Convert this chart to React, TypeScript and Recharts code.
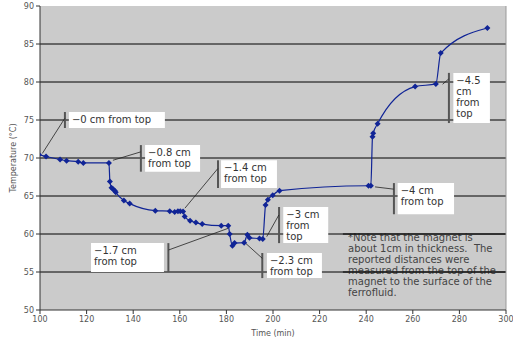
import React from 'react';
import { LineChart, Line, XAxis, YAxis, CartesianGrid, ReferenceLine, ReferenceArea } from 'recharts';

// time (min) and temperature (°C)
const times = [
    99.5, 102.6, 108.6, 111.4, 116.4, 118.6, 129.6, 130.0, 130.7, 131.4, 132.1, 132.5,
    136.0, 138.5, 149.5, 155.7, 157.8, 159.2, 160.2, 161.4, 162.1, 164.4, 166.9, 169.6,
    177.8, 180.8, 181.4, 182.6, 183.5, 187.6, 189.0, 189.9, 194.2, 195.6, 196.8, 197.8,
    199.9, 202.8, 241.0, 242.0, 242.7, 243.0, 244.9, 261.0, 269.9, 272.0, 292.0
];
const temps = [
    70.45, 70.2, 69.8, 69.65, 69.5, 69.35, 69.35, 66.9, 66.1, 65.9, 65.7, 65.5,
    64.4, 64.0, 63.07, 63.0, 62.9, 63.0, 63.0, 62.95, 62.3, 61.75, 61.5, 61.3,
    61.1, 61.1, 60.0, 58.45, 58.8, 58.85, 59.9, 59.5, 59.4, 59.35, 63.8, 64.5,
    65.1, 65.7, 66.35, 66.35, 72.8, 73.25, 74.5, 79.4, 79.75, 83.8, 87.1
];
const xTicks = [100, 120, 140, 160, 180, 200, 220, 240, 260, 280, 300];
const yTicks = [50, 55, 60, 65, 70, 75, 80, 85, 90];
const gridLevels = [55, 60, 65, 70, 75, 80, 85];
// gridlines that cross the note text are drawn again on top of it
const noteGrid = [55, 60];

const noteLines = [
    '*Note that the magnet is',
    'about 1cm in thickness.  The',
    'reported distances were',
    'measured from the top of the',
    'magnet to the surface of the',
    'ferrofluid.'
];

// callouts: text, box (x1, x2, y1, y2), bar x, leader line from/to (chart units)
const callouts = [
    { lines: ['\u22120 cm from top'], box: [112.4, 153.6, 73.95, 76.05], bar: 110.7, from: [110.6, 75.2], to: [101.0, 70.6] },
    { lines: ['\u22120.8 cm', 'from top'], box: [145.1, 168.7, 68.2, 71.7], bar: 143.3, from: [143.2, 70.8], to: [131.3, 69.7] },
    { lines: ['\u22121.4 cm', 'from top'], box: [177.7, 201.7, 66.05, 69.7], bar: 176.4, from: [176.3, 68.6], to: [162.2, 63.4] },
    { lines: ['\u22121.7 cm', 'from top'], box: [121.9, 153.2, 55.0, 58.8], bar: 155.1, from: [155.2, 57.9], to: [180.8, 60.75] },
    { lines: ['\u22122.3 cm', 'from top'], box: [197.4, 221.0, 54.2, 57.5], bar: 195.4, from: [195.4, 56.8], to: [188.0, 58.85] },
    { lines: ['\u22123 cm', 'from', 'top'], box: [204.4, 223.7, 58.8, 63.55], bar: 202.6, from: [202.5, 62.5], to: [197.3, 59.65] },
    { lines: ['\u22124 cm', 'from top'], box: [253.5, 277.7, 62.6, 66.7], bar: 251.9, from: [251.8, 65.9], to: [243.8, 66.2] },
    { lines: ['\u22124.5', 'cm', 'from', 'top'], box: [277.4, 293.1, 74.6, 81.2], bar: 275.5, from: [275.4, 80.4], to: [272.8, 79.7] }
];

const data = times.map((t, i) => ({ time: t, temp: temps[i] }));

const FONT = 'Verdana, "DejaVu Sans", sans-serif';
const BLUE = '#102496';

const textBlock = (lines: string[], dx: number, top: number, color: string) => (props: any) => {
    const vb = props.viewBox;
    return (
        <text x={vb.x + dx} y={vb.y + top} fontFamily={FONT} fontSize={10} fill={color}>
            {lines.map((l, i) => (
                <tspan key={i} x={vb.x + dx} dy={i === 0 ? 0 : 11} style={{ whiteSpace: 'pre' }}>{l}</tspan>
            ))}
        </text>
    );
};

const Diamond = (props: any) => {
    const { cx, cy, index } = props;
    if (cx == null || cy == null) return <g key={index} />;
    return <path key={index} d={`M${cx},${cy - 3}L${cx + 3},${cy}L${cx},${cy + 3}L${cx - 3},${cy}Z`} fill={BLUE} />;
};

const App: React.FC = () => {
    return (
        <div style={{ position: 'fixed', left: 0, top: 0, background: '#fff' }}>
            <LineChart width={513} height={343} data={data} margin={{ top: 6, right: 7, bottom: 0, left: 0 }}>
                <CartesianGrid vertical={false} horizontalValues={gridLevels} stroke="#000" strokeDasharray="" fill="#CBCBCB" />
                <XAxis
                    dataKey="time"
                    type="number"
                    domain={[100, 300]}
                    ticks={xTicks}
                    allowDataOverflow
                    height={33}
                    tickSize={4}
                    tick={{ fontSize: 8, fill: '#555', fontFamily: FONT }}
                    stroke="#333"
                    label={(p: any) => (
                        <text x={p.viewBox.x + p.viewBox.width / 2} y={p.viewBox.y + 26} textAnchor="middle" fontSize={8} fill="#555" fontFamily={FONT}>
                            Time (min)
                        </text>
                    )}
                />
                <YAxis
                    type="number"
                    domain={[50, 90]}
                    ticks={yTicks}
                    width={40}
                    tickSize={4}
                    tick={{ fontSize: 8, fill: '#555', fontFamily: FONT }}
                    stroke="#333"
                    label={(p: any) => (
                        <text x={13} y={p.viewBox.y + p.viewBox.height / 2} transform={`rotate(-90, 13, ${p.viewBox.y + p.viewBox.height / 2})`} textAnchor="middle" dominantBaseline="central" fontSize={8} fill="#555" fontFamily={FONT}>
                            Temperature (°C)
                        </text>
                    )}
                />
                <ReferenceArea x1={232.2} x2={299} y1={53} y2={60.6} fill="transparent" fillOpacity={0} label={textBlock(noteLines, 0, 12, '#444')} />
                {callouts.map((c, i) => (
                    <ReferenceArea key={`b${i}`} x1={c.box[0]} x2={c.box[1]} y1={c.box[2]} y2={c.box[3]} fill="#fff" fillOpacity={1} stroke="none" label={textBlock(c.lines, 3, 11, '#333')} />
                ))}
                {noteGrid.map(v => (
                    <ReferenceLine key={`g${v}`} segment={[{ x: 230, y: v }, { x: 300, y: v }]} stroke="#000" strokeWidth={1} />
                ))}
                <ReferenceLine x={300} stroke="#999" />
                {callouts.map((c, i) => (
                    <ReferenceLine key={`v${i}`} segment={[{ x: c.bar, y: c.box[2] }, { x: c.bar, y: c.box[3] }]} stroke="#555" strokeWidth={2} />
                ))}
                {callouts.map((c, i) => (
                    <ReferenceLine key={`l${i}`} segment={[{ x: c.from[0], y: c.from[1] }, { x: c.to[0], y: c.to[1] }]} stroke="#222" strokeWidth={0.8} />
                ))}
                <Line
                    type="monotone"
                    dataKey="temp"
                    stroke={BLUE}
                    strokeWidth={1.2}
                    dot={Diamond}
                    activeDot={false}
                    isAnimationActive={false}
                />
            </LineChart>
        </div>
    );
};

export default App;
